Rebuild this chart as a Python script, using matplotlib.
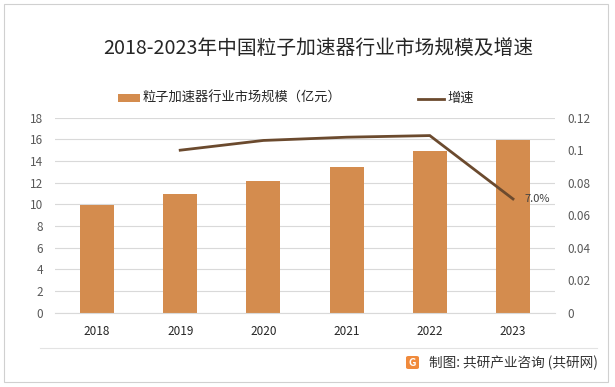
import matplotlib
matplotlib.use('Agg')
import matplotlib.pyplot as plt
from matplotlib.patches import Rectangle, FancyBboxPatch
from matplotlib.lines import Line2D
from matplotlib.ticker import FuncFormatter, MultipleLocator

plt.rcParams['font.family'] = ['Noto Sans CJK SC', 'DejaVu Sans']

years = ['2018', '2019', '2020', '2021', '2022', '2023']
scale = [9.9, 11.0, 12.15, 13.45, 14.93, 15.95]   # 亿元
growth = [None, 0.100, 0.106, 0.108, 0.109, 0.070]
last_label = '7.0%'
title = '2018-2023年中国粒子加速器行业市场规模及增速'
bar_name = '粒子加速器行业市场规模（亿元）'
line_name = '增速'
source = '制图: 共研产业咨询 (共研网)'

bar_color = '#D48C4E'
line_color = '#6B4A2E'
grid_color = '#D9D9D9'
tick_color = '#595959'

W, H = 615, 387
fig = plt.figure(figsize=(W/100, H/100), dpi=100)

def px(x, y):
    # pixel coords (from top-left) -> figure fraction
    return x/W, 1 - y/H

# outer border
fig.patches.append(Rectangle((3.5/W, 1-381.5/H), 604/W, 377.5/H, transform=fig.transFigure,
                             fill=False, edgecolor='#D0D0D0', linewidth=0.8))

left, top, right, bottom = 55.4, 117.7, 554.6, 312.7
ax = fig.add_axes([left/W, 1-bottom/H, (right-left)/W, (bottom-top)/H])
x = list(range(len(years)))
ax.bar(x, scale, width=0.41, color=bar_color, zorder=2)
ax.set_xlim(-0.5, len(years)-0.5)
ax.set_ylim(0, 18)
ax.yaxis.set_major_locator(MultipleLocator(2))
ax.grid(axis='y', color=grid_color, linewidth=0.8, zorder=0)
ax.set_axisbelow(True)
for s in ['top', 'left', 'right']:
    ax.spines[s].set_visible(False)
ax.spines['bottom'].set_color(grid_color)
ax.spines['bottom'].set_linewidth(0.8)
ax.set_xticks(x)
ax.set_xticklabels(years)
ax.tick_params(axis='x', length=0, pad=9, labelsize=8.5, labelcolor='#262626')
ax.tick_params(axis='y', length=0, pad=9, labelsize=8.5, labelcolor=tick_color)

ax2 = ax.twinx()
gx = [i for i, g in zip(x, growth) if g is not None]
gy = [g for g in growth if g is not None]
ax2.plot(gx, gy, color=line_color, linewidth=2.0, zorder=3, solid_joinstyle='miter')
ax2.set_ylim(0, 0.12)
ax2.yaxis.set_major_locator(MultipleLocator(0.02))
ax2.yaxis.set_major_formatter(FuncFormatter(lambda v, _: '{:g}'.format(round(v, 2))))
ax2.tick_params(axis='y', length=0, pad=9, labelsize=8.5, labelcolor=tick_color)
for s in ax2.spines.values():
    s.set_visible(False)
ax2.annotate(last_label, (gx[-1], gy[-1]), xytext=(8, 0), textcoords='offset points',
             ha='left', va='center', fontsize=8, color='#404040')

# title
fig.text(*px(318, 48), title, ha='center', va='center', fontsize=14.2, color='#262626')

# legend
fig.patches.append(Rectangle(px(118, 102), 22/W, 7.5/H, transform=fig.transFigure,
                             facecolor=bar_color, edgecolor='none'))
fig.text(*px(143, 98.5), bar_name, ha='left', va='center', fontsize=9.5, color='#262626')
fig.lines.append(Line2D([418/W, 444/W], [1-98.5/H, 1-98.5/H], transform=fig.transFigure,
                        color=line_color, linewidth=2.0))
fig.text(*px(447, 98.5), line_name, ha='left', va='center', fontsize=9.5, color='#262626')

# bottom separator + source
fig.lines.append(Line2D([40/W, 597/W], [1-347.5/H, 1-347.5/H], transform=fig.transFigure,
                        color='#E3E3E3', linewidth=0.8))
fig.patches.append(FancyBboxPatch(px(406, 369), 13/W, 13/H, transform=fig.transFigure,
                                  boxstyle='round,pad=0,rounding_size=0.004',
                                  facecolor='#F08A3C', edgecolor='none'))
fig.text(*px(412.5, 362.5), 'G', ha='center', va='center', fontsize=7.5, color='white',
         fontweight='bold')
fig.text(*px(429, 362.5), source, ha='left', va='center', fontsize=9.8, color='#333333')

fig.savefig('out.png', dpi=100)
